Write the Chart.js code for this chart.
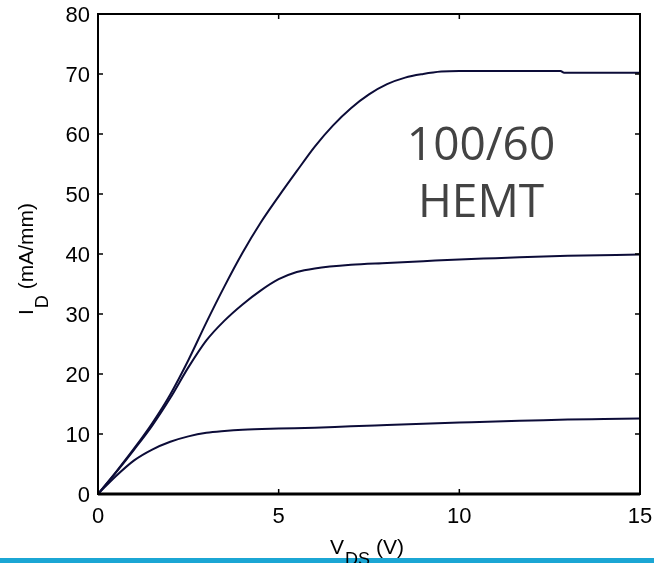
<!DOCTYPE html>
<html>
<head>
<meta charset="utf-8">
<script src="https://cdn.jsdelivr.net/npm/chart.js@4.4.0/dist/chart.umd.min.js"></script>
<style>
  html, body { margin: 0; padding: 0; background: #fff; }
</style>
</head>
<body>
<canvas id="grafico" width="654" height="563"></canvas>
<script>
// Curvas de salida I_D - V_DS (tres valores de V_GS)
const vdsAlta = [0, 0.5, 1.0, 1.5, 2.0, 2.5, 3.0, 3.5, 4.0, 4.5, 5.0, 5.5, 6.0, 6.5, 7.0, 7.5, 8.0, 8.5, 9.0, 9.5, 10, 12.8, 12.9, 15]
const idAlta  = [0, 3.7, 7.6, 11.8, 16.6, 22.3, 28.6, 34.6, 40.2, 45.2, 49.6, 53.8, 57.9, 61.4, 64.3, 66.6, 68.3, 69.4, 70.0, 70.4, 70.5, 70.5, 70.2, 70.2]

const vdsMedia = [0, 0.5, 1.0, 1.5, 2.0, 2.5, 3.0, 3.5, 4.0, 4.5, 5.0, 5.5, 6.0, 7.0, 8.0, 9.0, 10, 11, 13, 15]
const idMedia  = [0, 3.6, 7.4, 11.4, 16.0, 21.1, 25.6, 28.9, 31.6, 33.9, 35.8, 37.0, 37.6, 38.2, 38.5, 38.8, 39.1, 39.3, 39.7, 39.9]

const vdsBaja = [0, 0.5, 1.0, 1.5, 2.0, 2.5, 3.0, 3.5, 4.0, 5.0, 6.0, 7.0, 8.0, 9.0, 10, 11, 12, 13, 14, 15]
const idBaja  = [0, 3.0, 5.6, 7.4, 8.7, 9.6, 10.2, 10.5, 10.7, 10.9, 11.05, 11.3, 11.5, 11.7, 11.9, 12.1, 12.25, 12.4, 12.5, 12.6]

const ticksX = [0, 5, 10, 15]
const ticksY = [0, 10, 20, 30, 40, 50, 60, 70, 80]

// texto dentro del grafico y su posicion en unidades de datos
const etiqueta = ['100/60', 'HEMT']
const etiquetaV = 10.6
const etiquetaI = [57.9, 48.4]

const COLOR_LINEA = '#0c0c38'
const FUENTE = '"Liberation Sans", Arial, sans-serif'

const puntos = (xs, ys) => xs.map((v, i) => ({ x: v, y: ys[i] }))

const serie = (xs, ys) => ({
  data: puntos(xs, ys),
  borderColor: COLOR_LINEA,
  borderWidth: 2,
  pointRadius: 0,
  fill: false,
  cubicInterpolationMode: 'monotone'
})

// plugin para marco, ticks interiores, etiquetas, titulos con subindice y la franja cyan
const marcoMatlab = {
  id: 'marcoMatlab',
  beforeDraw(chart) {
    const ctx = chart.ctx
    ctx.save()
    ctx.fillStyle = '#ffffff'
    ctx.fillRect(0, 0, chart.width, chart.height)
    ctx.fillStyle = '#1ba6d4'
    ctx.fillRect(0, chart.height - 5, chart.width, 5)
    ctx.restore()
  },
  afterDraw(chart) {
    const ctx = chart.ctx
    const a = chart.chartArea
    const sx = chart.scales.x
    const sy = chart.scales.y
    ctx.save()

    // marco
    ctx.strokeStyle = '#000'
    ctx.lineWidth = 2
    ctx.strokeRect(a.left, a.top, a.right - a.left, a.bottom - a.top)
    ctx.lineWidth = 3
    ctx.beginPath()
    ctx.moveTo(a.left, a.bottom)
    ctx.lineTo(a.right, a.bottom)
    ctx.stroke()

    // ticks hacia adentro
    ctx.lineWidth = 1.5
    ctx.beginPath()
    ticksX.forEach(v => {
      const px = sx.getPixelForValue(v)
      ctx.moveTo(px, a.bottom); ctx.lineTo(px, a.bottom - 5)
      ctx.moveTo(px, a.top); ctx.lineTo(px, a.top + 5)
    })
    ticksY.forEach(v => {
      const py = sy.getPixelForValue(v)
      ctx.moveTo(a.left, py); ctx.lineTo(a.left + 5, py)
      ctx.moveTo(a.right, py); ctx.lineTo(a.right - 5, py)
    })
    ctx.stroke()

    // etiquetas de los ticks
    ctx.fillStyle = '#000'
    ctx.font = '22px ' + FUENTE
    ctx.textAlign = 'center'
    ctx.textBaseline = 'alphabetic'
    ticksX.forEach(v => ctx.fillText(String(v), sx.getPixelForValue(v), a.bottom + 29))
    ctx.textAlign = 'right'
    ticksY.forEach(v => ctx.fillText(String(v), a.left - 8, sy.getPixelForValue(v) + 8))

    // titulo eje x: V_DS (V)
    ctx.textBaseline = 'alphabetic'
    ctx.textAlign = 'left'
    const fGrande = '21px ' + FUENTE
    const fChica = '18px ' + FUENTE
    ctx.font = fGrande
    const wV = ctx.measureText('V').width
    const wResto = ctx.measureText(' (V)').width
    ctx.font = fChica
    const wDS = ctx.measureText('DS').width
    const total = wV + 1 + wDS + wResto
    let x0 = (a.left + a.right) / 2 - total / 2 - 2
    const yBase = 554
    ctx.font = fGrande
    ctx.fillText('V', x0, yBase)
    ctx.font = fChica
    ctx.fillText('DS', x0 + wV + 1, yBase + 11)
    ctx.font = fGrande
    ctx.fillText(' (V)', x0 + wV + 1 + wDS, yBase)

    // titulo eje y: I_D (mA/mm), rotado
    ctx.font = fGrande
    const wI = ctx.measureText('I').width
    const wMm = ctx.measureText(' (mA/mm)').width
    ctx.font = fChica
    const wD = ctx.measureText('D').width
    const totalY = wI + 1 + wD + wMm
    ctx.translate(33, (a.top + a.bottom) / 2 + 5)
    ctx.rotate(-Math.PI / 2)
    let t0 = -totalY / 2
    ctx.font = fGrande
    ctx.fillText('I', t0, 0)
    ctx.font = fChica
    ctx.fillText('D', t0 + wI + 1, 15)
    ctx.font = fGrande
    ctx.fillText(' (mA/mm)', t0 + wI + 1 + wD, 0)
    ctx.setTransform(1, 0, 0, 1, 0, 0)

    // anotacion
    ctx.font = '46px "Open Sans", sans-serif'
    ctx.fillStyle = '#434343'
    ctx.textAlign = 'center'
    ctx.textBaseline = 'middle'
    etiqueta.forEach((txt, i) => {
      ctx.fillText(txt, sx.getPixelForValue(etiquetaV), sy.getPixelForValue(etiquetaI[i]))
    })
    ctx.restore()
  }
}

const config = {
  type: 'line',
  data: {
    datasets: [serie(vdsAlta, idAlta), serie(vdsMedia, idMedia), serie(vdsBaja, idBaja)]
  },
  options: {
    responsive: false,
    animation: false,
    layout: { autoPadding: false, padding: { top: 14, right: 14, left: 0, bottom: 0 } },
    plugins: { legend: { display: false }, tooltip: { enabled: false } },
    scales: {
      x: {
        type: 'linear',
        min: 0,
        max: 15,
        afterFit: s => { s.height = 69 },
        afterBuildTicks: s => { s.ticks = ticksX.map(v => ({ value: v })) },
        grid: { display: false, drawTicks: false },
        border: { display: false },
        ticks: { display: false }
      },
      y: {
        type: 'linear',
        min: 0,
        max: 80,
        afterFit: s => { s.width = 98 },
        afterBuildTicks: s => { s.ticks = ticksY.map(v => ({ value: v })) },
        grid: { display: false, drawTicks: false },
        border: { display: false },
        ticks: { display: false }
      }
    }
  },
  plugins: [marcoMatlab]
}

const grafico = new Chart(document.getElementById('grafico'), config)
</script>
</body>
</html>
